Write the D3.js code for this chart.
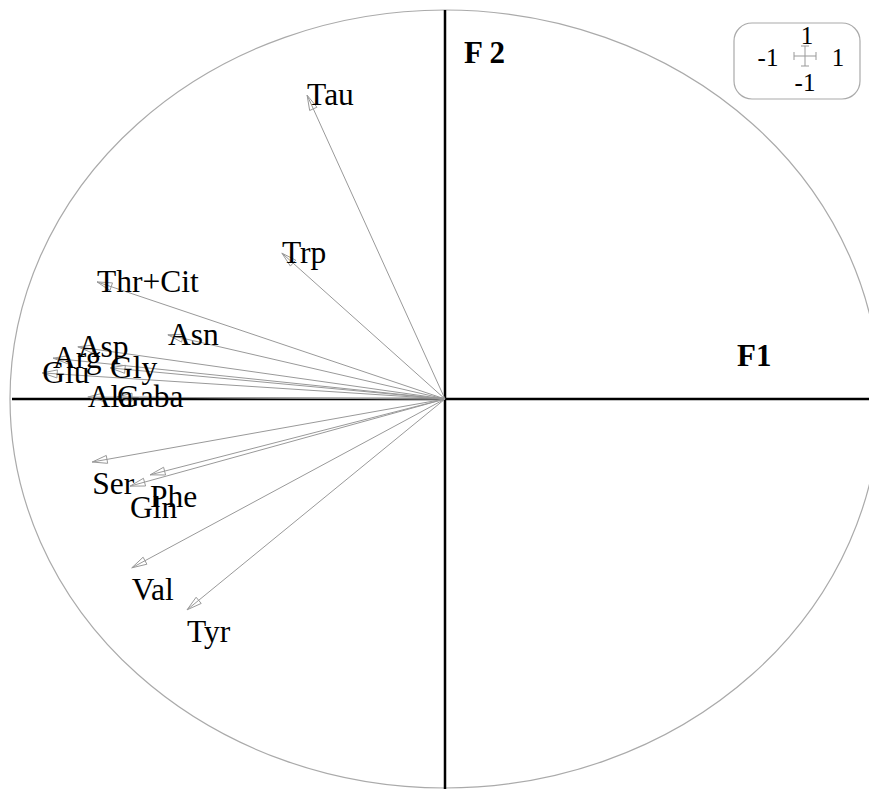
<!DOCTYPE html>
<html>
<head>
<meta charset="utf-8">
<script src="https://cdn.jsdelivr.net/npm/d3@7"></script>
<style>
  body { margin: 0; background: #fff; }
  text { font-family: "Liberation Serif", "DejaVu Serif", serif; fill: #000; }
</style>
</head>
<body>
<svg id="chart" width="869" height="789"></svg>
<script>
// variables and their loadings on F1 / F2
const variables = ['Tau', 'Trp', 'Thr+Cit', 'Asn', 'Asp', 'Arg', 'Glu', 'Gly', 'Ala', 'Gaba', 'Ser', 'Phe', 'Gln', 'Val', 'Tyr'];
const f1Values = [-0.317, -0.375, -0.800, -0.637, -0.844, -0.901, -0.926, -0.770, -0.821, -0.754, -0.811, -0.678, -0.724, -0.720, -0.593];
const f2Values = [0.781, 0.375, 0.301, 0.165, 0.134, 0.105, 0.067, 0.080, 0.005, 0.005, -0.162, -0.195, -0.224, -0.434, -0.542];
const axisLabels = ['F1', 'F 2'];
const legendTicks = ['-1', '1'];

const svg = d3.select('#chart');

// plot is slightly stretched horizontally, like the source picture
const x = d3.scaleLinear().domain([-1, 1]).range([10, 880]);
const y = d3.scaleLinear().domain([-1, 1]).range([788, 10]);

// correlation circle
svg.append('ellipse')
   .attr('cx', x(0)).attr('cy', y(0))
   .attr('rx', x(1) - x(0)).attr('ry', y(0) - y(1))
   .attr('fill', 'none')
   .attr('stroke', '#aaa')
   .attr('stroke-width', 1.2);

// axes
svg.append('line')
   .attr('x1', 12).attr('x2', 869)
   .attr('y1', y(0)).attr('y2', y(0))
   .attr('stroke', '#000').attr('stroke-width', 2.5);
svg.append('line')
   .attr('x1', x(0)).attr('x2', x(0))
   .attr('y1', y(1)).attr('y2', 789)
   .attr('stroke', '#000').attr('stroke-width', 2.5);

svg.append('text')
   .attr('x', 737).attr('y', 366)
   .style('font-weight', 'bold').style('font-size', '31px')
   .text(axisLabels[0]);
svg.append('text')
   .attr('x', 464).attr('y', 63)
   .style('font-weight', 'bold').style('font-size', '31px')
   .text(axisLabels[1]);

const data = variables.map((name, i) => ({ name: name, f1: f1Values[i], f2: f2Values[i] }));

// arrows
const arrows = svg.append('g');
arrows.selectAll('line')
   .data(data)
   .enter().append('line')
   .attr('x1', x(0)).attr('y1', y(0))
   .attr('x2', d => x(d.f1)).attr('y2', d => y(d.f2))
   .attr('stroke', '#999')
   .attr('stroke-width', 1);

const headLen = 15, headHalf = 4;
arrows.selectAll('polygon')
   .data(data)
   .enter().append('polygon')
   .attr('points', d => {
      const tx = x(d.f1), ty = y(d.f2);
      const a = Math.atan2(ty - y(0), tx - x(0));
      const bx = tx - headLen * Math.cos(a), by = ty - headLen * Math.sin(a);
      const px = -Math.sin(a) * headHalf, py = Math.cos(a) * headHalf;
      return [[tx, ty], [bx + px, by + py], [bx - px, by - py]].map(p => p.join(',')).join(' ');
   })
   .attr('fill', 'none')
   .attr('stroke', '#999')
   .attr('stroke-width', 1);

// labels (upper ones sit on the tip, lower ones hang under it)
svg.append('g').selectAll('text')
   .data(data)
   .enter().append('text')
   .attr('x', d => x(d.f1))
   .attr('y', d => y(d.f2) + (d.f2 >= 0 ? 10 : 32))
   .style('font-size', '31.5px')
   .text(d => d.name);

// small scale legend box
const legend = svg.append('g');
legend.append('rect')
   .attr('x', 734).attr('y', 23)
   .attr('width', 126).attr('height', 76)
   .attr('rx', 18).attr('ry', 18)
   .attr('fill', '#fff')
   .attr('stroke', '#aaa')
   .attr('stroke-width', 1.2);

const lx = d3.scaleLinear().domain([-1, 1]).range([794, 816]);
const ly = d3.scaleLinear().domain([-1, 1]).range([66, 46]);
legend.append('line')
   .attr('x1', lx(-1)).attr('x2', lx(1)).attr('y1', ly(0)).attr('y2', ly(0))
   .attr('stroke', '#999');
legend.append('line')
   .attr('x1', lx(0)).attr('x2', lx(0)).attr('y1', ly(-1)).attr('y2', ly(1))
   .attr('stroke', '#999');
[[lx(-1), ly(0), 0], [lx(1), ly(0), 0], [lx(0), ly(-1), 1], [lx(0), ly(1), 1]].forEach(c => {
   legend.append('line')
      .attr('x1', c[2] ? c[0] - 4 : c[0]).attr('x2', c[2] ? c[0] + 4 : c[0])
      .attr('y1', c[2] ? c[1] : c[1] - 4).attr('y2', c[2] ? c[1] : c[1] + 4)
      .attr('stroke', '#999');
});

legend.append('text').attr('x', lx(0) + 2).attr('y', 44).attr('text-anchor', 'middle')
   .style('font-size', '25px').text(legendTicks[1]);
legend.append('text').attr('x', lx(0)).attr('y', 91).attr('text-anchor', 'middle')
   .style('font-size', '25px').text(legendTicks[0]);
legend.append('text').attr('x', 768).attr('y', 66).attr('text-anchor', 'middle')
   .style('font-size', '25px').text(legendTicks[0]);
legend.append('text').attr('x', 838).attr('y', 66).attr('text-anchor', 'middle')
   .style('font-size', '25px').text(legendTicks[1]);
</script>
</body>
</html>
